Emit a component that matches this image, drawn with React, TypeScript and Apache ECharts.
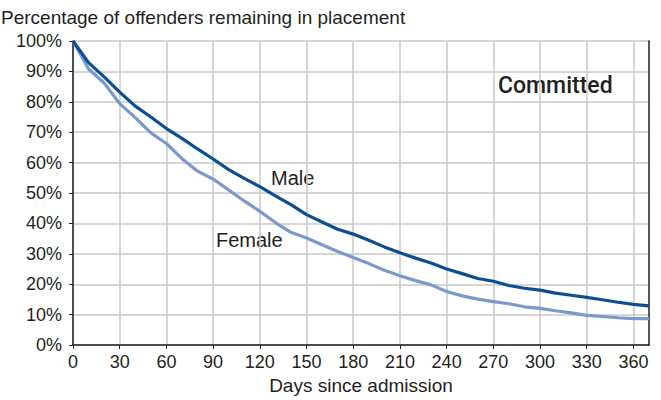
import React, { useEffect, useRef } from "react";
import * as echarts from "echarts";

const days = [0, 10, 20, 30, 40, 50, 60, 70, 80, 90, 100, 110, 120, 130, 140, 150, 160, 170, 180, 190, 200, 210, 220, 230, 240, 250, 260, 270, 280, 290, 300, 310, 320, 330, 340, 350, 360, 370];
const male = [100, 92.9, 88.2, 83.2, 78.6, 75, 71.2, 68, 64.5, 61.2, 57.7, 54.8, 52.1, 49.1, 46.2, 42.9, 40.5, 38.1, 36.5, 34.5, 32.3, 30.4, 28.6, 27, 25, 23.5, 21.9, 21, 19.6, 18.7, 18.1, 17.1, 16.4, 15.7, 14.9, 14.1, 13.4, 12.9];
const female = [100, 90.8, 86.2, 79.4, 74.8, 69.8, 66.3, 61.3, 57.2, 54.6, 51, 47.4, 44, 40.3, 37.1, 35.2, 33, 30.8, 28.8, 26.8, 24.6, 22.8, 21.2, 19.8, 17.6, 16.2, 15.1, 14.3, 13.6, 12.6, 12.1, 11.3, 10.6, 9.8, 9.4, 9.0, 8.7, 8.7];
const xTicks = [0, 30, 60, 90, 120, 150, 180, 210, 240, 270, 300, 330, 360];

const FONT = "'Liberation Sans', Arial, sans-serif";
const INK = "#231f20";

export default function App() {
  const ref = useRef<HTMLDivElement>(null);
  useEffect(() => {
    if (!ref.current) return;
    const chart = echarts.init(ref.current, null, { renderer: "svg" });
    chart.setOption({
      animation: false,
      grid: { left: 73, right: 12, top: 41, bottom: 52 },
      xAxis: {
        type: "value",
        min: 0,
        max: 370,
        interval: 30,
        name: "Days since admission",
        nameLocation: "middle",
        nameGap: 30,
        nameTextStyle: { fontFamily: FONT, fontSize: 19, color: INK, verticalAlign: "top" },
        axisLine: { show: true, lineStyle: { color: INK, width: 1.5 } },
        axisTick: { show: true, customValues: xTicks, length: 4, lineStyle: { color: INK } },
        axisLabel: { customValues: xTicks, fontFamily: FONT, fontSize: 18, color: INK, margin: 8 },
        splitLine: { show: true, lineStyle: { color: "#c8c8ca", width: 1.5 } },
      },
      yAxis: [
        {
          type: "value",
          min: 0,
          max: 100,
          interval: 10,
          axisLine: { show: true, lineStyle: { color: INK, width: 1.5 } },
          axisTick: { show: true, length: 4, lineStyle: { color: INK } },
          axisLabel: { formatter: "{value}%", fontFamily: FONT, fontSize: 18, color: INK, margin: 11 },
          splitLine: { show: true, lineStyle: { color: "#c8c8ca", width: 1.5 } },
        },
        {
          type: "value",
          min: 0,
          max: 100,
          interval: 10,
          position: "right",
          axisLine: { show: true, lineStyle: { color: INK, width: 1.5 } },
          axisTick: { show: false },
          axisLabel: { show: false },
          splitLine: { show: false },
        },
      ],
      series: [
        {
          name: "Male",
          type: "line",
          data: days.map((d, i) => [d, male[i]]),
          showSymbol: false,
          symbol: "none",
          lineStyle: { color: "#0b4f92", width: 3.2 },
          z: 3,
        },
        {
          name: "Female",
          type: "line",
          data: days.map((d, i) => [d, female[i]]),
          showSymbol: false,
          symbol: "none",
          lineStyle: { color: "#7a98cc", width: 3.2 },
          z: 2,
        },
      ],
      graphic: [
        { type: "text", left: 1, top: 8, style: { text: "Percentage of offenders remaining in placement", fontFamily: FONT, fontSize: 19, fill: INK } },
        { type: "text", left: 498, top: 74, style: { text: "Committed", fontFamily: "Roboto, 'Liberation Sans', sans-serif", fontSize: 23, fontWeight: 500, fill: INK } },
        { type: "text", left: 271, top: 168, style: { text: "Male", fontFamily: FONT, fontSize: 20, fill: INK } },
        { type: "text", left: 216, top: 230, style: { text: "Female", fontFamily: FONT, fontSize: 20, fill: INK } },
      ],
    });
    return () => chart.dispose();
  }, []);
  return <div ref={ref} style={{ width: 661, height: 400, position: "absolute", left: 0, top: 0 }} />;
}
